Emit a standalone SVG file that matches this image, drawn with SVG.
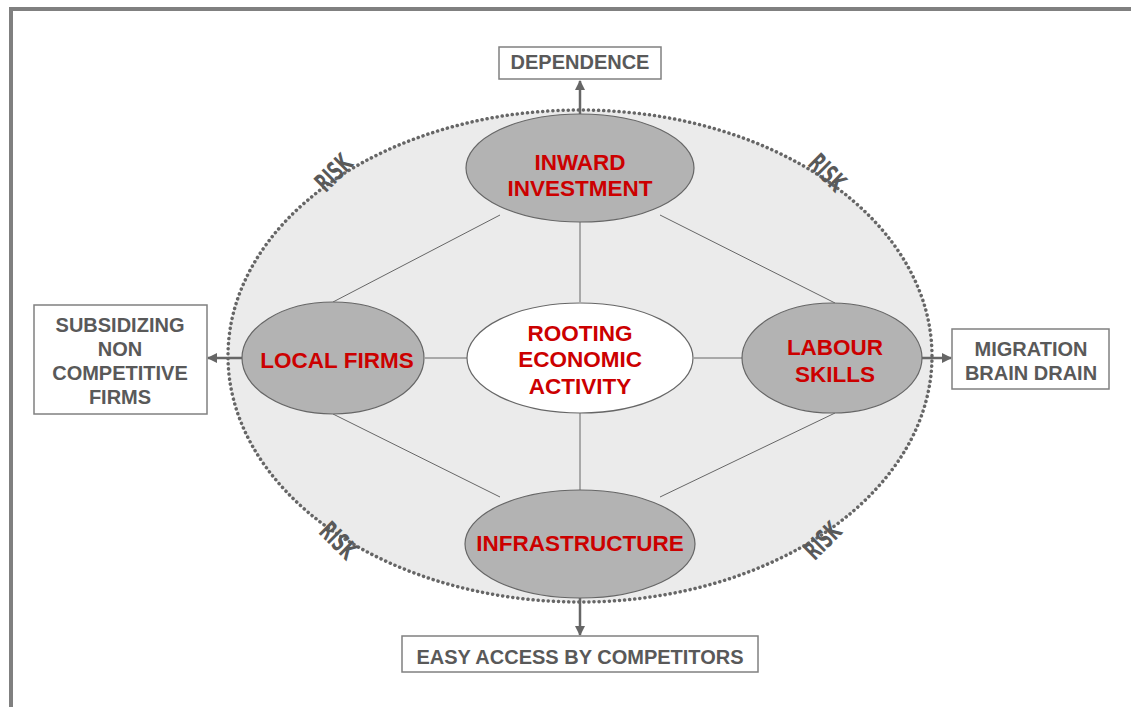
<svg xmlns="http://www.w3.org/2000/svg" width="1131" height="707" viewBox="0 0 1131 707">
<style>
.node{stroke:#666;stroke-width:1.2}
.dark{fill:#b3b3b3}
.red{fill:#cc0000;font-family:"Liberation Sans",Arial,sans-serif;font-weight:bold;font-size:22.5px;text-anchor:middle}
.gray{fill:#595959;font-family:"Liberation Sans",Arial,sans-serif;font-weight:bold;font-size:20px;text-anchor:middle}
.box{fill:#fff;stroke:#808080;stroke-width:1.5}
.risk{fill:#595959;font-family:"DejaVu Sans Condensed","DejaVu Sans",sans-serif;font-weight:bold;font-size:26px;text-anchor:middle}
.ln{stroke:#666;stroke-width:1;fill:none}
.arr{stroke:#666;stroke-width:2.5;fill:none;marker-end:url(#ah)}
</style>
<defs>
<marker id="ah" viewBox="0 0 10 10" refX="9" refY="5" markerWidth="4" markerHeight="4" orient="auto" markerUnits="strokeWidth">
<path d="M0,0 L10,5 L0,10 z" fill="#666"/>
</marker>
</defs>
<rect width="1131" height="707" fill="#fff"/>
<path d="M11,707 V9 H1131" fill="none" stroke="#808080" stroke-width="4"/>
<g id="outer">
<ellipse cx="580" cy="356" rx="352" ry="246" fill="#ebebeb" stroke="#666" stroke-width="3.5" stroke-dasharray="0.1 5" stroke-linecap="round"/>
</g>
<g id="connectors">
<line class="ln" x1="580" y1="222" x2="580" y2="302"/>
<line class="ln" x1="500" y1="215" x2="333" y2="302"/>
<line class="ln" x1="660" y1="215" x2="835" y2="303"/>
<line class="ln" x1="333" y1="414" x2="500" y2="497"/>
<line class="ln" x1="835" y1="413" x2="660" y2="497"/>
<line class="ln" x1="425" y1="358" x2="467" y2="358"/>
<line class="ln" x1="694" y1="358" x2="743" y2="358"/>
<line class="ln" x1="580" y1="413" x2="580" y2="490"/>
<line class="arr" x1="580" y1="114" x2="580" y2="81"/>
<line class="arr" x1="242" y1="358" x2="208" y2="358"/>
<line class="arr" x1="922" y1="358" x2="951" y2="358"/>
<line class="arr" x1="580" y1="598" x2="580" y2="635"/>
</g>
<g id="risk-labels">
<text class="risk" transform="translate(340,179) rotate(-45) scale(0.65,1)">RISK</text>
<text class="risk" transform="translate(821,179) rotate(45) scale(0.65,1)">RISK</text>
<text class="risk" transform="translate(332,547) rotate(45) scale(0.65,1)">RISK</text>
<text class="risk" transform="translate(829,547) rotate(-45) scale(0.65,1)">RISK</text>
</g>
<g id="inward">
<ellipse class="node dark" cx="580" cy="168" rx="114" ry="54"/>
<text class="red" x="580" y="170">INWARD</text>
<text class="red" x="580" y="196">INVESTMENT</text>
</g>
<g id="local">
<ellipse class="node dark" cx="333" cy="358" rx="91" ry="56"/>
<text class="red" x="337" y="368">LOCAL FIRMS</text>
</g>
<g id="labour">
<ellipse class="node dark" cx="832" cy="358" rx="90" ry="55"/>
<text class="red" x="835" y="355">LABOUR</text>
<text class="red" x="835" y="382">SKILLS</text>
</g>
<g id="infra">
<ellipse class="node dark" cx="580" cy="544" rx="115" ry="54"/>
<text class="red" x="580" y="551">INFRASTRUCTURE</text>
</g>
<g id="center">
<ellipse class="node" fill="#fff" cx="580" cy="358" rx="113" ry="55"/>
<text class="red" x="580" y="341">ROOTING</text>
<text class="red" x="580" y="367">ECONOMIC</text>
<text class="red" x="580" y="394">ACTIVITY</text>
</g>
<g id="dependence">
<rect class="box" x="499" y="47" width="162" height="32"/>
<text class="gray" x="580" y="69">DEPENDENCE</text>
</g>
<g id="subsidizing">
<rect class="box" x="34" y="305" width="173" height="109"/>
<text class="gray" x="120" y="332">SUBSIDIZING</text>
<text class="gray" x="120" y="356">NON</text>
<text class="gray" x="120" y="380">COMPETITIVE</text>
<text class="gray" x="120" y="404">FIRMS</text>
</g>
<g id="migration">
<rect class="box" x="952" y="329" width="157" height="60"/>
<text class="gray" x="1031" y="356">MIGRATION</text>
<text class="gray" x="1031" y="380">BRAIN DRAIN</text>
</g>
<g id="easy">
<rect class="box" x="402" y="636" width="356" height="36"/>
<text class="gray" x="580" y="664">EASY ACCESS BY COMPETITORS</text>
</g>
</svg>
